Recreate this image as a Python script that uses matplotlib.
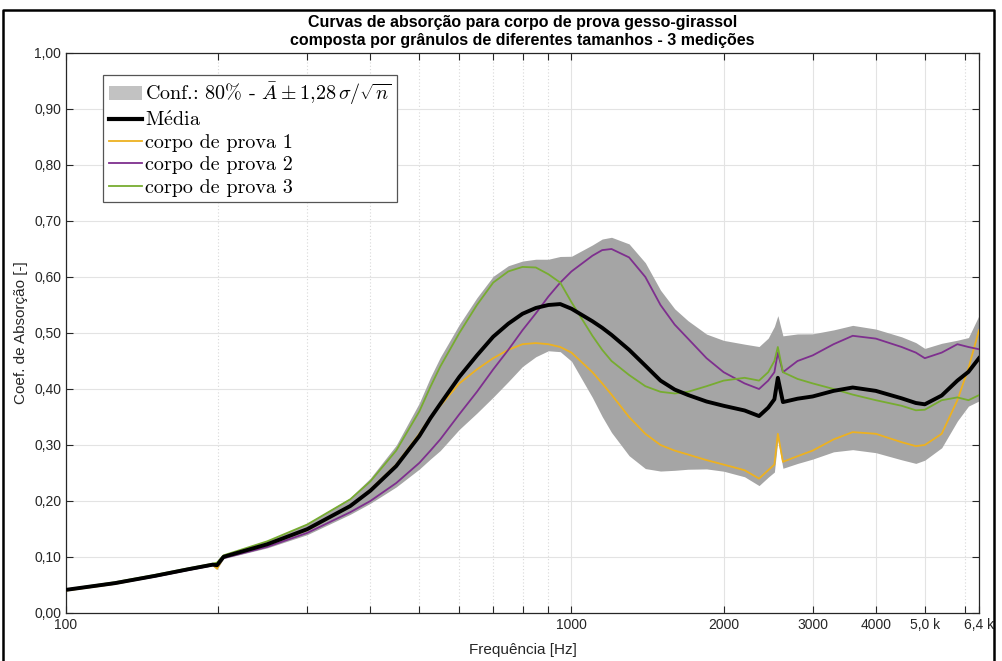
import numpy as np
import matplotlib
matplotlib.use("Agg")
import matplotlib.pyplot as plt
from matplotlib.ticker import FixedLocator, FixedFormatter, NullFormatter
from matplotlib.patches import Patch
from matplotlib.lines import Line2D

# ---------------- data ----------------
freq = [100, 125, 150, 175, 195, 199, 205, 250, 300, 365, 400, 450, 500, 526,
        550, 600, 650, 700, 750, 800, 850, 900, 950, 1000, 1100, 1150, 1200,
        1300, 1400, 1500, 1600, 1700, 1850, 2000, 2200, 2350, 2450, 2520, 2560,
        2620, 2800, 3000, 3300, 3600, 4000, 4500, 4800, 5000, 5400, 5800, 6100,
        6400]

cp1 = [0.040, 0.052, 0.066, 0.078, 0.086, 0.079, 0.100, 0.122, 0.148, 0.190,
       0.220, 0.265, 0.320, 0.350, 0.370, 0.410, 0.435, 0.455, 0.470, 0.480,
       0.482, 0.480, 0.475, 0.465, 0.430, 0.410, 0.390, 0.350, 0.320, 0.300,
       0.290, 0.283, 0.273, 0.265, 0.255, 0.240, 0.255, 0.265, 0.320, 0.270,
       0.280, 0.290, 0.310, 0.323, 0.320, 0.305, 0.298, 0.300, 0.320, 0.380,
       0.437, 0.505]

cp2 = [0.042, 0.053, 0.065, 0.077, 0.085, 0.087, 0.098, 0.118, 0.143, 0.180,
       0.200, 0.232, 0.268, 0.290, 0.310, 0.355, 0.395, 0.435, 0.470, 0.505,
       0.535, 0.565, 0.590, 0.610, 0.638, 0.648, 0.650, 0.635, 0.600, 0.550,
       0.515, 0.490, 0.455, 0.430, 0.410, 0.400, 0.415, 0.430, 0.465, 0.430,
       0.450, 0.460, 0.480, 0.495, 0.490, 0.475, 0.465, 0.455, 0.465, 0.480,
       0.475, 0.471]

cp3 = [0.042, 0.055, 0.068, 0.080, 0.088, 0.090, 0.103, 0.128, 0.158, 0.203,
       0.235, 0.290, 0.360, 0.404, 0.440, 0.500, 0.550, 0.590, 0.610, 0.618,
       0.617, 0.605, 0.590, 0.555, 0.495, 0.470, 0.450, 0.425, 0.405, 0.395,
       0.392, 0.395, 0.405, 0.415, 0.420, 0.415, 0.430, 0.450, 0.475, 0.430,
       0.418, 0.410, 0.400, 0.390, 0.380, 0.370, 0.362, 0.363, 0.380, 0.385,
       0.380, 0.389]

xtick_vals = [100, 1000, 2000, 3000, 4000, 5000, 6400]
xtick_labels = ["100", "1000", "2000", "3000", "4000", "5,0 k", "6,4 k"]
xminor_vals = [200, 300, 400, 500, 600, 700, 800, 900, 6000]
ytick_vals = [0.0, 0.1, 0.2, 0.3, 0.4, 0.5, 0.6, 0.7, 0.8, 0.9, 1.0]
ytick_labels = ["0,00", "0,10", "0,20", "0,30", "0,40", "0,50", "0,60",
                "0,70", "0,80", "0,90", "1,00"]

title_line1 = "Curvas de absorção para corpo de prova gesso-girassol"
title_line2 = "composta por grânulos de diferentes tamanhos - 3 medições"

# ---------------- derived statistics ----------------
f = np.array(freq, dtype=float)
M = np.vstack([cp1, cp2, cp3])
mean = M.mean(axis=0)
sd = M.std(axis=0, ddof=1)
lo = mean - 1.28 * sd
hi = mean + 1.28 * sd

# ---------------- style ----------------
SANS = ["Liberation Sans", "DejaVu Sans"]
SERIF = ["cmr10", "DejaVu Serif"]
plt.rcParams["mathtext.fontset"] = "cm"
plt.rcParams["font.family"] = SANS
plt.rcParams["axes.unicode_minus"] = False

C1 = "#EDB120"
C2 = "#7E2F8E"
C3 = "#77AC30"
AXC = "#262626"

W, H = 1003, 661
fig = plt.figure(figsize=(W / 100, H / 100), dpi=100)
L, R, T, B = 66, 979, 53, 613
ax = fig.add_axes([L / W, 1 - B / H, (R - L) / W, (B - T) / H])

ax.fill_between(f, lo, hi, color="#a5a5a5", lw=0, zorder=2)
ax.plot(f, cp1, color=C1, lw=1.3, zorder=3)
ax.plot(f, cp2, color=C2, lw=1.3, zorder=3)
ax.plot(f, cp3, color=C3, lw=1.3, zorder=3)
ax.plot(f, mean, color="black", lw=2.8, zorder=4)

ax.set_xscale("log")
ax.set_xlim(100, 6400)
ax.set_ylim(0, 1)

ax.xaxis.set_major_locator(FixedLocator(xtick_vals))
ax.xaxis.set_major_formatter(FixedFormatter(xtick_labels))
ax.xaxis.set_minor_locator(FixedLocator(xminor_vals))
ax.xaxis.set_minor_formatter(NullFormatter())
ax.yaxis.set_major_locator(FixedLocator(ytick_vals))
ax.yaxis.set_major_formatter(FixedFormatter(ytick_labels))

ax.tick_params(which="both", direction="in", top=True, right=True,
               color=AXC, labelcolor=AXC, labelsize=10, width=0.8)
ax.tick_params(which="major", length=5)
ax.tick_params(which="minor", length=5)
for s in ax.spines.values():
    s.set_color(AXC)
    s.set_linewidth(0.9)

ax.grid(True, which="major", color="#e3e3e3", lw=0.8, zorder=0)
ax.grid(True, which="minor", axis="x", color="#d8d8d8", lw=0.8,
        linestyle=(0, (1, 2)), zorder=0)
ax.set_axisbelow(True)

fig.text((L + R) / 2 / W, 1 - 650 / H, "Frequência [Hz]", ha="center",
         va="center", fontsize=11, color=AXC)
ax.set_ylabel("Coef. de Absorção [-]", fontsize=11, color=AXC, labelpad=4)
fig.text((L + R) / 2 / W, 1 - 23 / H, title_line1, ha="center", va="center",
         fontsize=11.5, fontweight="bold", color="black")
fig.text((L + R) / 2 / W, 1 - 41 / H, title_line2, ha="center", va="center",
         fontsize=11.5, fontweight="bold", color="black")

handles = [Patch(facecolor="#c2c2c2", edgecolor="none"),
           Line2D([], [], color="black", lw=3),
           Line2D([], [], color=C1, lw=1.3),
           Line2D([], [], color=C2, lw=1.3),
           Line2D([], [], color=C3, lw=1.3)]
labels = [r"Conf.: 80% - $\bar{A} \pm 1{,}28\,\sigma/\sqrt{n}$",
          r"$\mathrm{M\acute{e}dia}$",
          "corpo de prova 1", "corpo de prova 2", "corpo de prova 3"]
leg = ax.legend(handles, labels, loc="upper left",
                bbox_to_anchor=((103 - L) / (R - L), 1 - (75 - T) / (B - T)),
                borderaxespad=0, fancybox=False, framealpha=1,
                edgecolor="#555555", handlelength=1.65, handletextpad=0.15,
                borderpad=0.28, labelspacing=0.2,
                prop={"family": SERIF, "size": 14.5})
leg.get_frame().set_linewidth(0.9)
leg.set_zorder(10)

# outer black frame of the screenshot (left, top, right)
frame_x = [3 / W, 3 / W, 994 / W, 994 / W]
frame_y = [0.0, 1 - 10 / H, 1 - 10 / H, 0.0]
fig.add_artist(Line2D(frame_x, frame_y, transform=fig.transFigure,
                      color="black", lw=1.8))

fig.savefig("out.png", dpi=100)
